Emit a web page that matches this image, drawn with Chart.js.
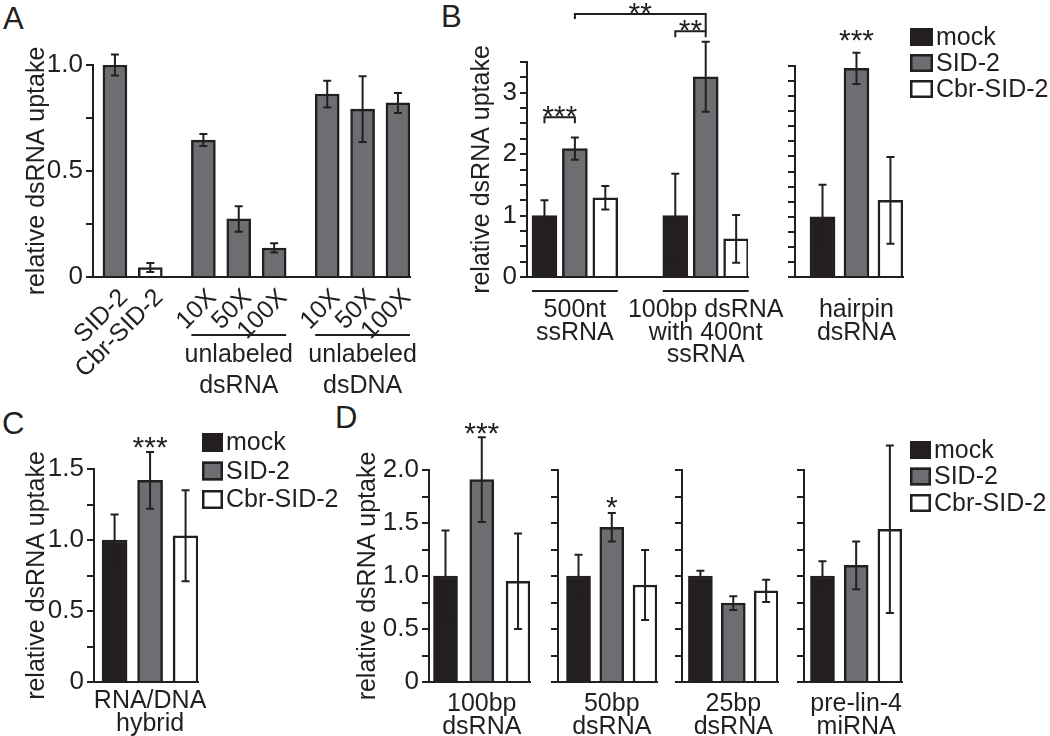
<!DOCTYPE html>
<html>
<head>
<meta charset="utf-8">
<script src="https://cdn.jsdelivr.net/npm/chart.js@4.4.0/dist/chart.umd.min.js"></script>
<style>
  body { margin: 0; background: #fff; width: 1050px; height: 736px; overflow: hidden; position: relative;
         font-family: "Liberation Sans", Arial, Helvetica, sans-serif; color: #231f20; }
  canvas { position: absolute; left: 0; top: 0; }
  .panel { position: absolute; font-size: 31px; line-height: 1; }
</style>
</head>
<body>
<div class="panel" style="left:3px;top:3px">A</div>
<div class="panel" style="left:441px;top:1px">B</div>
<div class="panel" style="left:2px;top:408px">C</div>
<div class="panel" style="left:335px;top:402px">D</div>
<script>
// ---- data ----
const SERIES = ['mock', 'SID-2', 'Cbr-SID-2'];

// A: competition, single series
const A_LABELS = ['SID-2', 'Cbr-SID-2', '10X', '50X', '100X', '10X', '50X', '100X'];
const A_VALUES = [1.0, 0.045, 0.646, 0.274, 0.137, 0.863, 0.792, 0.821];
const A_ERRORS = [0.05, 0.021, 0.028, 0.06, 0.022, 0.063, 0.155, 0.047];
const A_COLOR = [1, 2, 1, 1, 1, 1, 1, 1];   // which series colour each bar uses
const A_GROUP = [0, 0, 1, 1, 1, 2, 2, 2];
const A_GROUP_TEXT = [['unlabeled', 'dsRNA'], ['unlabeled', 'dsDNA']];
const A_YTICKS = [0, 0.5, 1.0];
const A_YTEXT = ['0', '0.5', '1.0'];

// B left: two substrates
const B_GROUPS = [['500nt', 'ssRNA'], ['100bp dsRNA', 'with 400nt', 'ssRNA']];
const B_MOCK = [1.0, 1.0];
const B_SID2 = [2.09, 3.26];
const B_CBR = [1.29, 0.62];
const B_MOCK_ERR = [0.25, 0.68];
const B_SID2_ERR = [0.18, 0.57];
const B_CBR_ERR = [0.19, 0.39];
const B_YTICKS = [0, 1, 2, 3];
const B_YTEXT = ['0', '1', '2', '3'];

// B right: hairpin
const BH_GROUP = [['hairpin', 'dsRNA']];
const BH_VALUES = [1.0, 3.46, 1.27];
const BH_ERRORS = [0.53, 0.26, 0.72];

// C
const C_GROUP = [['RNA/DNA', 'hybrid']];
const C_VALUES = [1.0, 1.42, 1.03];
const C_ERRORS = [0.18, 0.2, 0.32];
const C_YTICKS = [0, 0.5, 1.0, 1.5];
const C_YTEXT = ['0', '0.5', '1.0', '1.5'];

// D
const D_GROUPS = [['100bp', 'dsRNA'], ['50bp', 'dsRNA'], ['25bp', 'dsRNA'], ['pre-lin-4', 'miRNA']];
const D_MOCK = [1.0, 1.0, 1.0, 1.0];
const D_SID2 = [1.91, 1.46, 0.745, 1.1];
const D_CBR = [0.95, 0.915, 0.86, 1.44];
const D_MOCK_ERR = [0.43, 0.2, 0.05, 0.14];
const D_SID2_ERR = [0.40, 0.135, 0.065, 0.225];
const D_CBR_ERR = [0.45, 0.33, 0.105, 0.79];
const D_YTICKS = [0, 0.5, 1.0, 1.5, 2.0];
const D_YTEXT = ['0', '0.5', '1.0', '1.5', '2.0'];

// ---- style ----
const INK = '#231f20';
const FILL = ['#231f20', '#6d6e71', '#ffffff'];
const FONT = '"Liberation Sans", Arial, Helvetica, sans-serif';
Chart.defaults.font.family = FONT;
Chart.defaults.color = INK;

// error bars, significance marks, group lines and legends
const annot = {
  id: 'annot',
  afterDatasetsDraw(chart, args, o) {
    const ctx = chart.ctx, ys = chart.scales.y, area = chart.chartArea;
    const bar = (d, i) => chart.getDatasetMeta(d).data[i];
    const top = (d, i) => {
      const ds = chart.data.datasets[d];
      return ys.getPixelForValue(ds.data[i].y + ds.errors[i]);
    };
    ctx.save();
    ctx.strokeStyle = INK;
    ctx.fillStyle = INK;
    ctx.lineWidth = 2;
    chart.data.datasets.forEach((ds, d) => {
      chart.getDatasetMeta(d).data.forEach((b, i) => {
        const v = ds.data[i].y, e = ds.errors[i];
        const y1 = ys.getPixelForValue(v + e), y2 = ys.getPixelForValue(v - e);
        ctx.beginPath();
        ctx.moveTo(b.x, y1); ctx.lineTo(b.x, y2);
        ctx.moveTo(b.x - 4, y1); ctx.lineTo(b.x + 4, y1);
        ctx.moveTo(b.x - 4, y2); ctx.lineTo(b.x + 4, y2);
        ctx.stroke();
      });
    });
    ctx.font = '30px ' + FONT;
    ctx.textAlign = 'center';
    ctx.textBaseline = 'alphabetic';
    (o.stars || []).forEach(s => {
      const b = bar(s.d, s.i);
      ctx.fillText(s.text, b.x, top(s.d, s.i) - s.gap + 17);
    });
    (o.brackets || []).forEach(k => {
      const xa = bar(k.a[0], k.a[1]).x, xb = bar(k.b[0], k.b[1]).x;
      const ly = ys.getPixelForValue(k.level);
      ctx.beginPath();
      ctx.moveTo(xa, ly + k.legA); ctx.lineTo(xa, ly); ctx.lineTo(xb, ly); ctx.lineTo(xb, ly + k.legB);
      ctx.stroke();
      ctx.fillText(k.text, (xa + xb) / 2, ly + 9);
    });
    ctx.font = '25px ' + FONT;
    (o.groups || []).forEach(g => {
      const b1 = bar(g.from[0], g.from[1]), b2 = bar(g.to[0], g.to[1]);
      const x1 = b1.x - b1.width / 2, x2 = b2.x + b2.width / 2;
      ctx.beginPath();
      ctx.moveTo(x1, area.bottom + g.dy); ctx.lineTo(x2, area.bottom + g.dy);
      ctx.stroke();
      (g.text || []).forEach((t, n) => ctx.fillText(t, (x1 + x2) / 2, area.bottom + g.textDy[n]));
    });
    if (o.legend) {
      const L = o.legend;
      ctx.textAlign = 'left';
      ctx.textBaseline = 'middle';
      chart.data.datasets.forEach((ds, d) => {
        const y = L.y + d * L.row;
        ctx.fillStyle = ds.backgroundColor;
        ctx.fillRect(L.x, y, L.w, L.h);
        ctx.lineWidth = 2.5;
        ctx.strokeRect(L.x + 1.25, y + 1.25, L.w - 2.5, L.h - 2.5);
        ctx.fillStyle = INK;
        ctx.fillText(ds.label, L.x + L.w + 3, y + L.h / 2 + 1);
      });
    }
    ctx.restore();
  }
};
Chart.register(annot);

function seriesSets(values, errors, step, thick) {
  return SERIES.map((name, s) => ({
    label: name,
    data: values[s].map((v, g) => ({ x: g * step + s, y: v })),
    errors: errors[s],
    backgroundColor: FILL[s],
    borderColor: INK,
    borderWidth: 2.5,
    barThickness: thick,
    grouped: false
  }));
}

function quarterTicks(max) {
  const t = [];
  for (let k = 0; k * 0.25 <= max + 1e-9; k++) t.push({ value: k * 0.25 });
  return t;
}

function panel(p) {
  const c = document.createElement('canvas');
  c.width = 1050; c.height = 736;
  document.body.appendChild(c);
  const yW = p.titleLeft !== undefined ? p.left - p.titleLeft : 12;
  const xH = 736 - p.bottom;   // x scale box runs to the page bottom so labels are not clipped
  return new Chart(c, {
    type: 'bar',
    data: { datasets: p.datasets },
    options: {
      responsive: false,
      devicePixelRatio: 1,
      animation: false,
      layout: { padding: { left: p.left - yW, right: 1050 - p.right, top: p.top, bottom: 0 } },
      plugins: { legend: { display: false }, tooltip: { enabled: false }, annot: p.annot || {} },
      scales: {
        x: {
          type: 'linear', min: p.xmin, max: p.xmax, offset: false,
          grid: { display: false, drawTicks: false },
          border: { display: true, color: INK, width: 2 },
          afterFit: s => { s.height = xH; },
          afterBuildTicks: s => { s.ticks = p.ticks.map(v => ({ value: v })); },
          ticks: {
            autoSkip: false, padding: p.xPad, labelOffset: p.rotate ? 9 : 0,
            minRotation: p.rotate || 0, maxRotation: p.rotate || 0,
            font: { size: 25, lineHeight: p.rotate ? 1 : 0.9 }, color: INK,
            callback: (v, i) => p.labels[i]
          }
        },
        y: {
          min: 0, max: p.ymax,
          afterFit: s => { s.width = yW; },
          afterBuildTicks: s => { s.ticks = quarterTicks(p.ymax); },
          grid: { display: true, drawOnChartArea: false, drawTicks: true, tickLength: 7, color: INK, lineWidth: 2 },
          border: { display: true, color: INK, width: 2 },
          ticks: {
            autoSkip: false, padding: 3, font: { size: 26 }, color: INK,
            callback: v => {
              const k = (p.yTicks || []).findIndex(u => Math.abs(u - v) < 1e-6);
              return k >= 0 ? p.yText[k] : '';
            }
          },
          title: p.titleLeft !== undefined
            ? { display: true, text: 'relative dsRNA uptake', font: { size: 25 }, padding: 0, color: INK }
            : { display: false }
        }
      }
    }
  });
}

// ---- A ----
const aPos = A_VALUES.map((v, i) => i + 0.5 * A_GROUP[i]);
panel({
  left: 93, right: 410, top: 65, bottom: 277, ymax: 1.0, xmin: -0.62, xmax: 8.34,
  titleLeft: 22, yTicks: A_YTICKS, yText: A_YTEXT,
  ticks: aPos, labels: A_LABELS, rotate: 45, xPad: 8,
  datasets: [{
    label: 'A',
    data: A_VALUES.map((v, i) => ({ x: aPos[i], y: v })),
    errors: A_ERRORS,
    backgroundColor: A_COLOR.map(k => FILL[k]),
    borderColor: INK, borderWidth: 2.5, barThickness: 24, grouped: false
  }],
  annot: {
    groups: [
      { from: [0, 2], to: [0, 4], dy: 58, text: A_GROUP_TEXT[0], textDy: [85, 116] },
      { from: [0, 5], to: [0, 7], dy: 58, text: A_GROUP_TEXT[1], textDy: [85, 116] }
    ]
  }
});

// ---- B ----
const B_STEP = 4.3;
panel({
  left: 527, right: 748, top: 62, bottom: 277, ymax: 3.5, xmin: -0.574, xmax: 6.69,
  titleLeft: 467, yTicks: B_YTICKS, yText: B_YTEXT,
  ticks: B_GROUPS.map((g, i) => i * B_STEP + 1), labels: B_GROUPS, xPad: 22,
  datasets: seriesSets([B_MOCK, B_SID2, B_CBR], [B_MOCK_ERR, B_SID2_ERR, B_CBR_ERR], B_STEP, 25),
  annot: {
    brackets: [
      { a: [0, 0], b: [1, 0], level: 2.6, legA: 6, legB: 6, text: '***' },
      { a: [0, 1], b: [1, 1], level: 4.0, legA: 6, legB: 6, text: '**' },
      { a: [1, 0], b: [1, 1], level: 4.28, legA: 5, legB: 17, text: '**' }
    ],
    groups: [
      { from: [0, 0], to: [2, 0], dy: 14 },
      { from: [0, 1], to: [2, 1], dy: 14 }
    ]
  }
});
panel({
  left: 795, right: 903, top: 66, bottom: 277, ymax: 3.5, xmin: -0.81, xmax: 2.37,
  ticks: [1], labels: BH_GROUP, xPad: 22,
  datasets: seriesSets(BH_VALUES.map(v => [v]), BH_ERRORS.map(e => [e]), 0, 25),
  annot: {
    stars: [{ d: 1, i: 0, text: '***', gap: 20 }],
    legend: { x: 910, y: 28, row: 26, w: 23, h: 18 }
  }
});

// ---- C ----
panel({
  left: 94, right: 198, top: 469, bottom: 682, ymax: 1.5, xmin: -0.58, xmax: 2.35,
  titleLeft: 22, yTicks: C_YTICKS, yText: C_YTEXT,
  ticks: [1], labels: C_GROUP, xPad: 8,
  datasets: seriesSets(C_VALUES.map(v => [v]), C_ERRORS.map(e => [e]), 0, 25),
  annot: {
    stars: [{ d: 1, i: 0, text: '***', gap: 12 }],
    legend: { x: 202, y: 433, row: 28.5, w: 21, h: 19 }
  }
});

// ---- D ----
const D_BOX = [
  { left: 429, right: 530, xmin: -0.455, xmax: 2.33 },
  { left: 558, right: 657, xmin: -0.617, xmax: 2.36 },
  { left: 682, right: 778, xmin: -0.56, xmax: 2.36 },
  { left: 804, right: 902, xmin: -0.548, xmax: 2.36 }
];
const D_STARS = [[{ d: 1, i: 0, text: '***', gap: 11 }], [{ d: 1, i: 0, text: '*', gap: 13 }], [], []];
D_GROUPS.forEach((g, n) => {
  const box = D_BOX[n];
  panel({
    left: box.left, right: box.right, top: 470, bottom: 682, ymax: 2.0, xmin: box.xmin, xmax: box.xmax,
    titleLeft: n === 0 ? 353 : undefined, yTicks: n === 0 ? D_YTICKS : [], yText: D_YTEXT,
    ticks: [1], labels: [g], xPad: 11,
    datasets: seriesSets([[D_MOCK[n]], [D_SID2[n]], [D_CBR[n]]],
                         [[D_MOCK_ERR[n]], [D_SID2_ERR[n]], [D_CBR_ERR[n]]], 0, 24),
    annot: {
      stars: D_STARS[n],
      legend: n === 3 ? { x: 910, y: 441, row: 26.5, w: 21, h: 18 } : null
    }
  });
});
</script>
</body>
</html>
